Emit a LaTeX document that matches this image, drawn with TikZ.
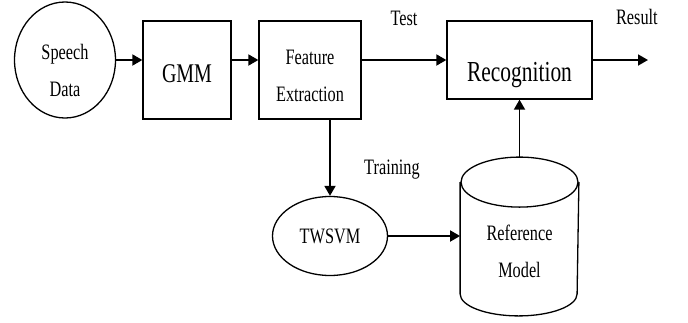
\documentclass[tikz,border=0pt]{standalone}
\usepackage{fontspec}
\setmainfont{Liberation Serif}[FakeStretch=0.74]
\usetikzlibrary{positioning,shapes.geometric,arrows.meta}

\tikzset{
  block/.style={rectangle, draw, line width=1.3pt},
  blob/.style={ellipse, draw, line width=1.3pt},
  store/.style={rectangle, minimum width=117pt, minimum height=157pt}
}

\begin{document}
\begin{tikzpicture}[->, >={Triangle[length=10pt,width=11pt]}, x=1pt, y=1pt, line width=1.8pt,
    font=\fontsize{22}{37}\selectfont]

      \useasboundingbox (0,0) rectangle (688,-322);

      % Define blocks
      \node[blob, minimum width=101pt, minimum height=116pt,
            label={[align=center, yshift=-10pt]center:Speech\\Data}] (speech) at (65,-60) {};
      \node[block, minimum width=88pt, minimum height=98pt,
            label={[font=\fontsize{27}{30}\selectfont, yshift=-4pt]center:GMM}] (gmm) at (187,-70) {};
      \node[block, minimum width=102pt, minimum height=98pt,
            label={[align=center, yshift=-6pt]center:Feature\\Extraction}] (fe) at (310,-70) {};
      \node[block, minimum width=145pt, minimum height=78pt,
            label={[font=\fontsize{29}{32}\selectfont, yshift=-15pt]center:Recognition}] (rec) at (519.5,-60) {};
      \node[blob, minimum width=115pt, minimum height=79pt] (svm) at (330,-236) {TWSVM};
      \node[store, label={[align=center, yshift=-15pt]center:Reference\\Model}] (ref) at (519.5,-236.5) {};
      \coordinate (out) at (648,-60);

      % Cylinder outline
      \draw[-, line width=1.3pt] ([yshift=-25pt]ref.north) ellipse [x radius=58.5pt, y radius=25pt];
      \draw[-, line width=1.3pt] ([yshift=-25pt]ref.north west) -- ([yshift=22pt]ref.south west)
            arc [start angle=180, end angle=360, x radius=58.5pt, y radius=22pt]
            -- ([yshift=-25pt]ref.north east);

      % Define transitions
      \path (speech.east) edge (speech.east -| gmm.west)
            (gmm.east |- speech.east) edge (fe.west |- speech.east)
            (fe.east |- rec.west) edge node[above=30pt] {Test} (rec.west)
            (rec.east) edge node[pos=0.8, above=31pt] {Result} (out)
            (fe.south -| svm.north) edge node[pos=0.65, right=30pt] {Training} (svm.north)
            (svm.east) edge (svm.east -| ref.west)
            (ref.north) edge (rec.south);

    \end{tikzpicture}
\end{document}
